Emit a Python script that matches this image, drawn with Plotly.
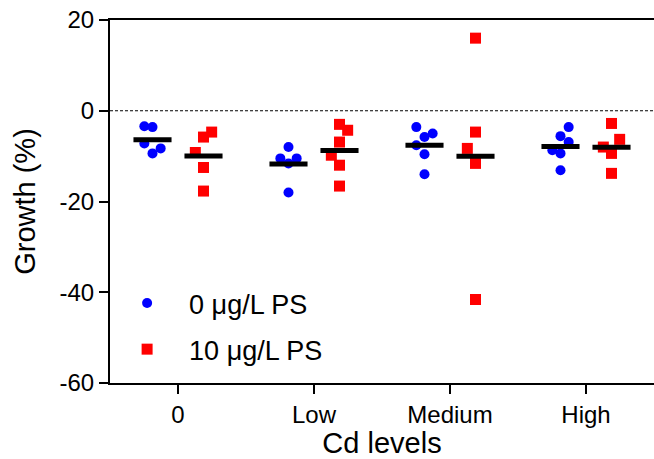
import numpy as np
import plotly.graph_objects as go

categories = ["0", "Low", "Medium", "High"]
series_names = ["0 \u03bcg/L PS", "10 \u03bcg/L PS"]
y_ticks = [-60, -40, -20, 0, 20]
y_tick_labels = ["-60", "-40", "-20", "0", "20"]

# Growth (%) values, per Cd level
ps0_cd0 = [-3.4, -3.6, -7.2, -9.4, -8.3]
ps0_low = [-8.0, -10.5, -10.5, -11.6, -18.0]
ps0_med = [-3.6, -5.0, -5.8, -7.6, -9.6, -14.0]
ps0_high = [-3.6, -5.6, -6.9, -8.7, -9.4, -13.1]

ps10_cd0 = [-4.7, -5.8, -9.2, -12.5, -17.7]
ps10_low = [-3.0, -4.3, -6.9, -9.8, -12.0, -16.6]
ps10_med = [16.0, -4.7, -8.3, -11.6, -41.6]
ps10_high = [-2.8, -6.3, -8.0, -9.4, -13.8]

# scatter-column rank of each point (left / centre / right)
jit_ps0 = [[-1, 0, -1, 0, 1], [0, -1, 1, 0, 0], [-1, 1, 0, -1, 0, 0], [1, 0, 1, -1, 0, 0]]
jit_ps10 = [[1, 0, -1, 0, 0], [0, 1, 0, -1, 0, 0], [0, 0, -1, 0, 0], [0, 1, -1, 0, 0]]

series_values = [[ps0_cd0, ps0_low, ps0_med, ps0_high],
                 [ps10_cd0, ps10_low, ps10_med, ps10_high]]
series_jitter = [jit_ps0, jit_ps10]

colors = ["#0000FF", "#FF0000"]
symbols = ["circle", "square"]
sizes = [10, 11]
group_offset = [-0.1875, 0.1875]
jit_step = 0.06
half_bar = 0.14

FONT = "Liberation Sans, Arial, sans-serif"

fig = go.Figure()

for s in range(2):
    xs, ys = [], []
    for i, vals in enumerate(series_values[s]):
        for v, j in zip(vals, series_jitter[s][i]):
            xs.append(i + group_offset[s] + j * jit_step)
            ys.append(v)
    fig.add_trace(go.Scatter(
        x=xs, y=ys, mode="markers", name=series_names[s],
        legendgroup=series_names[s],
        marker=dict(color=colors[s], symbol=symbols[s], size=sizes[s],
                    line=dict(width=0)),
    ))

# mean lines
for s in range(2):
    mx, my = [], []
    for i, vals in enumerate(series_values[s]):
        m = float(np.mean(vals))
        c = i + group_offset[s]
        mx += [c - half_bar, c + half_bar, None]
        my += [m, m, None]
    fig.add_trace(go.Scatter(x=mx, y=my, mode="lines", showlegend=False,
                             line=dict(color="black", width=5),
                             hoverinfo="skip"))

fig.add_shape(type="line", xref="paper", yref="y", x0=0, x1=1, y0=0, y1=0,
              line=dict(color="black", width=1, dash="3px,2px"), layer="below")

axis_common = dict(showline=True, linecolor="black", linewidth=2,
                   ticks="outside", ticklen=9, tickwidth=2, tickcolor="black",
                   showgrid=False, zeroline=False, automargin=False,
                   tickfont=dict(family=FONT, size=24, color="black"))

fig.update_layout(
    width=654, height=459,
    margin=dict(l=110, r=0, t=20, b=76),
    plot_bgcolor="white", paper_bgcolor="white",
    font=dict(family=FONT, color="black"),
    xaxis=dict(range=[-0.5, 3.5], tickvals=[0, 1, 2, 3], ticktext=categories,
               mirror=True,
               title=dict(text="Cd levels", font=dict(family=FONT, size=29)),
               **axis_common),
    yaxis=dict(range=[-60, 20], tickvals=y_ticks, ticktext=y_tick_labels,
               title=dict(text="Growth (%)", font=dict(family=FONT, size=29)),
               **axis_common),
    legend=dict(x=-0.009, y=0.2865, xanchor="left", yanchor="top",
                bgcolor="rgba(0,0,0,0)", itemwidth=74, tracegroupgap=8,
                font=dict(family=FONT, size=27, color="black")),
)

# remove the default page margin so the 654x459 figure fills the window exactly
fig.write_html("out.html",
               config={"displayModeBar": False},
               post_script="document.body.style.margin='0';")
